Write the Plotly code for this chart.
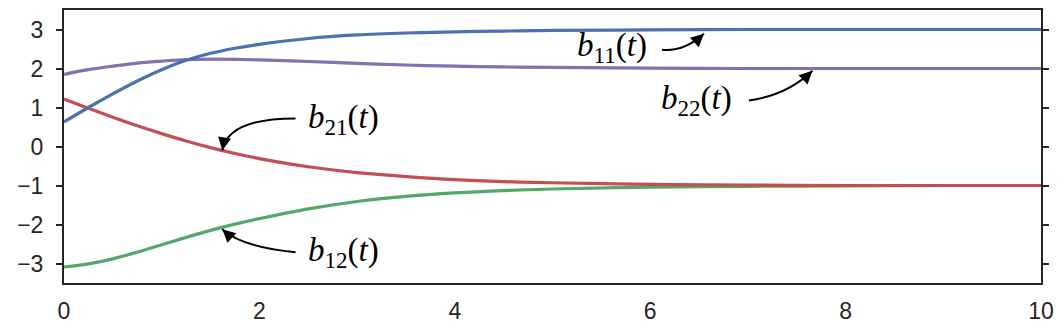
import plotly.graph_objects as go

t = [0, 0.25, 0.5, 0.75, 1.0, 1.25, 1.5, 1.75, 2.0, 2.5, 3.0, 3.5, 4.0, 4.5, 5.0, 6.0, 7.0, 8.0, 9.0, 10.0]
b11 = [0.63, 1.0, 1.35, 1.68, 1.97, 2.21, 2.39, 2.52, 2.62, 2.77, 2.86, 2.91, 2.94, 2.96, 2.975, 2.99, 3.0, 3.0, 3.0, 3.0]
b22 = [1.85, 1.97, 2.06, 2.14, 2.19, 2.23, 2.24, 2.235, 2.22, 2.18, 2.13, 2.09, 2.06, 2.04, 2.03, 2.01, 2.0, 2.0, 2.0, 2.0]
b21 = [1.22, 0.98, 0.75, 0.53, 0.33, 0.14, -0.03, -0.18, -0.31, -0.52, -0.67, -0.77, -0.85, -0.9, -0.93, -0.97, -0.99, -1.0, -1.0, -1.0]
b12 = [-3.09, -3.01, -2.88, -2.71, -2.52, -2.33, -2.15, -1.99, -1.85, -1.6, -1.41, -1.28, -1.19, -1.13, -1.09, -1.04, -1.02, -1.01, -1.0, -1.0]

series = [
    ("b12", b12, "#55A868"),
    ("b21", b21, "#C44E52"),
    ("b22", b22, "#8172B2"),
    ("b11", b11, "#4C72B0"),
]

# label text, label centre (t, y), arrow start, bezier control, arrow tip
labels = [
    ("<i>b</i><sub>11</sub>(<i>t</i>)", (5.61, 2.55), (6.12, 2.48), (6.35, 2.43), (6.55, 2.89)),
    ("<i>b</i><sub>22</sub>(<i>t</i>)", (6.47, 1.17), (7.01, 1.18), (7.40, 1.31), (7.66, 1.94)),
    ("<i>b</i><sub>21</sub>(<i>t</i>)", (2.86, 0.68), (2.37, 0.72), (1.68, 0.72), (1.62, -0.1)),
    ("<i>b</i><sub>12</sub>(<i>t</i>)", (2.86, -2.72), (2.37, -2.71), (1.82, -2.58), (1.62, -2.12)),
]

fig = go.Figure()
for name, ys, col in series:
    fig.add_trace(go.Scatter(x=t, y=ys, mode="lines", name=name,
                             line=dict(color=col, width=3.2, shape="spline", smoothing=1.0),
                             showlegend=False, hoverinfo="skip"))

shapes = []
annotations = []
for text, (lx, ly), (sx, sy), (cx, cy), (tx, ty) in labels:
    annotations.append(dict(x=lx, y=ly, xref="x", yref="y", text=text, showarrow=False,
                            font=dict(family="Liberation Serif", size=33, color="black")))
    shapes.append(dict(type="path", xref="x", yref="y",
                       path=f"M {sx},{sy} Q {cx},{cy} {tx},{ty}",
                       line=dict(color="black", width=2)))
    annotations.append(dict(x=tx, y=ty, ax=cx + (tx - cx) * 0.6, ay=cy + (ty - cy) * 0.6,
                            xref="x", yref="y", axref="x", ayref="y", text="",
                            showarrow=True, arrowhead=2, arrowsize=1.3, arrowwidth=2,
                            arrowcolor="black", standoff=0))

axis_common = dict(showline=True, linecolor="#262626", linewidth=2, mirror=True,
                   showgrid=False, zeroline=False,
                   tickfont=dict(family="Liberation Sans", size=23, color="#262626"))

fig.update_layout(
    width=1062, height=332,
    margin=dict(l=64, r=21, t=8, b=46),
    plot_bgcolor="white", paper_bgcolor="white",
    xaxis=dict(range=[0, 10], tickvals=[0, 2, 4, 6, 8, 10], ticks="",
               ticklabelstandoff=6, **axis_common),
    yaxis=dict(range=[-3.5, 3.5], tickvals=[-3, -2, -1, 0, 1, 2, 3], ticks="outside",
               ticklen=6, tickwidth=2, tickcolor="#262626", ticklabelstandoff=8,
               **{**axis_common, "mirror": "allticks"}),
    shapes=shapes,
    annotations=annotations,
)

fig.write_html("out.html")
